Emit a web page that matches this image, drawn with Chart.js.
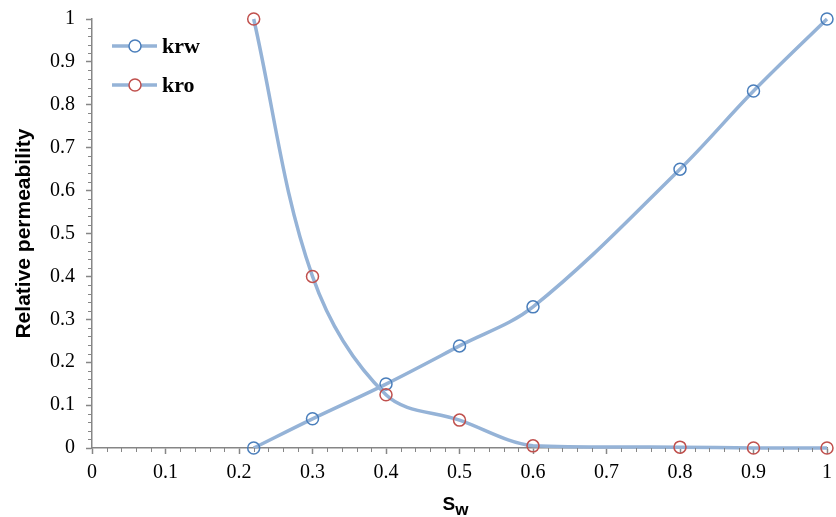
<!DOCTYPE html>
<html lang="en">
<head>
    <meta charset="UTF-8">
    <title>Relative permeability</title>
    <script src="https://cdn.jsdelivr.net/npm/chart.js"></script>
    <style>
        body { margin: 0; background: #fff; }
        #wrap { width: 836px; height: 517px; }
    </style>
</head>
<body>

    <div id="wrap">
        <canvas id="myChart"></canvas>
    </div>

    <script>
        // values
        const sw  = [0.22, 0.3, 0.4, 0.5, 0.6, 0.8, 0.9, 1.0];
        const krw = [0, 0.068, 0.149, 0.238, 0.329, 0.65, 0.832, 1.0];
        const kro = [1.0, 0.4, 0.124, 0.065, 0.005, 0.002, 0, 0];
        const seriesNames = ['krw', 'kro'];
        const axisTitleY = 'Relative permeability';
        const axisTitleX = ['S', 'w'];   // S with subscript w

        const axisGray = '#868686';
        const lineBlue = '#95b3d7';

        const toXY = ys => sw.map((x, i) => ({ x: x, y: ys[i] }));
        const fmt = v => String(Number(v.toFixed(2)));

        // short minor ticks every 0.02 on both axes
        const minorTicks = {
            id: 'minorTicks',
            afterDraw(chart) {
                const { ctx, chartArea, scales } = chart;
                ctx.save();
                ctx.strokeStyle = axisGray;
                ctx.lineWidth = 1;
                ctx.beginPath();
                for (let i = 1; i < 50; i++) {
                    if (i % 5 === 0) continue;
                    const px = Math.round(scales.x.getPixelForValue(i / 50)) + 0.5;
                    ctx.moveTo(px, chartArea.bottom);
                    ctx.lineTo(px, chartArea.bottom + 4);
                    const py = Math.round(scales.y.getPixelForValue(i / 50)) + 0.5;
                    ctx.moveTo(chartArea.left - 4, py);
                    ctx.lineTo(chartArea.left, py);
                }
                ctx.stroke();
                ctx.restore();
            }
        };

        // legend inside the plot, line + marker like the original
        const innerLegend = {
            id: 'innerLegend',
            afterDraw(chart) {
                const { ctx, chartArea } = chart;
                ctx.save();
                chart.data.datasets.forEach((ds, i) => {
                    const y = chartArea.top + 27 + i * 39;
                    const x0 = chartArea.left + 20;
                    ctx.strokeStyle = ds.borderColor;
                    ctx.lineWidth = 3.5;
                    ctx.beginPath();
                    ctx.moveTo(x0, y);
                    ctx.lineTo(x0 + 45, y);
                    ctx.stroke();
                    ctx.beginPath();
                    ctx.arc(x0 + 23, y, 6, 0, Math.PI * 2);
                    ctx.fillStyle = '#fff';
                    ctx.fill();
                    ctx.lineWidth = 1.5;
                    ctx.strokeStyle = ds.pointBorderColor;
                    ctx.stroke();
                    ctx.fillStyle = '#000';
                    ctx.font = 'bold 22px "Liberation Serif"';
                    ctx.textBaseline = 'middle';
                    ctx.fillText(ds.label, x0 + 50, y + 1);
                });
                ctx.restore();
            }
        };

        // x axis title with subscript
        const subTitleX = {
            id: 'subTitleX',
            afterDraw(chart) {
                const { ctx, chartArea } = chart;
                ctx.save();
                ctx.fillStyle = '#000';
                ctx.textBaseline = 'alphabetic';
                ctx.font = 'bold 19px "Liberation Sans"';
                const wS = ctx.measureText(axisTitleX[0]).width;
                ctx.font = 'bold 17px "Liberation Sans"';
                const wW = ctx.measureText(axisTitleX[1]).width;
                const cx = (chartArea.left + chartArea.right) / 2 - 4;
                const x0 = cx - (wS + wW) / 2;
                ctx.font = 'bold 19px "Liberation Sans"';
                ctx.fillText(axisTitleX[0], x0, 510);
                ctx.font = 'bold 17px "Liberation Sans"';
                ctx.fillText(axisTitleX[1], x0 + wS, 515);
                ctx.restore();
            }
        };

        const tickFont = { family: '"Liberation Serif"', size: 20 };

        const ctx = document.getElementById('myChart').getContext('2d');
        new Chart(ctx, {
            type: 'line',
            data: {
                datasets: [{
                    label: seriesNames[0],
                    data: toXY(krw),
                    borderColor: lineBlue,
                    borderWidth: 3.5,
                    pointRadius: 6,
                    pointBorderWidth: 1.5,
                    pointBorderColor: '#4a7ebb',
                    pointBackgroundColor: 'rgba(0,0,0,0)',
                    tension: 0.35,
                    fill: false,
                    clip: false,
                    order: 1
                }, {
                    label: seriesNames[1],
                    data: toXY(kro),
                    borderColor: lineBlue,
                    borderWidth: 3.5,
                    pointRadius: 6,
                    pointBorderWidth: 1.5,
                    pointBorderColor: '#c0504d',
                    pointBackgroundColor: 'rgba(0,0,0,0)',
                    tension: 0.35,
                    fill: false,
                    clip: false,
                    order: 0
                }]
            },
            options: {
                responsive: true,
                maintainAspectRatio: false,
                animation: false,
                layout: { padding: { top: 19, right: 9, left: 0, bottom: 0 } },
                plugins: {
                    legend: { display: false },
                    tooltip: { enabled: false }
                },
                scales: {
                    x: {
                        type: 'linear',
                        min: 0,
                        max: 1,
                        afterFit: s => { s.height = 69; s.paddingLeft = 0; s.paddingRight = 0; },
                        border: { display: true, color: axisGray, width: 1.5 },
                        grid: { drawOnChartArea: false, drawTicks: true, tickLength: 6, tickColor: axisGray, tickWidth: 1.5 },
                        ticks: { stepSize: 0.1, color: '#000', font: tickFont, padding: 7, maxRotation: 0, callback: fmt }
                    },
                    y: {
                        type: 'linear',
                        min: 0,
                        max: 1,
                        afterFit: s => { s.width = 92; s.paddingTop = 0; s.paddingBottom = 0; },
                        border: { display: true, color: axisGray, width: 1.5 },
                        grid: { drawOnChartArea: false, drawTicks: true, tickLength: 6, tickColor: axisGray, tickWidth: 1.5 },
                        ticks: { stepSize: 0.1, color: '#000', font: tickFont, padding: 11, callback: fmt },
                        title: {
                            display: true,
                            text: axisTitleY,
                            color: '#000',
                            font: { family: '"Liberation Sans"', size: 21, weight: 'bold' },
                            padding: { top: 12, bottom: 0 }
                        }
                    }
                }
            },
            plugins: [minorTicks, innerLegend, subTitleX]
        });
    </script>

</body>
</html>
